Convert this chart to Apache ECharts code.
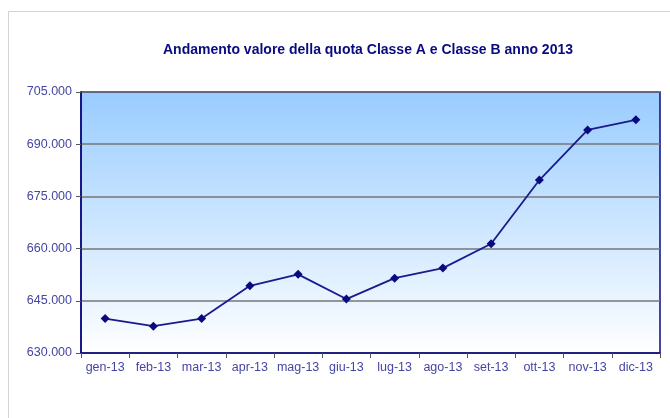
<!DOCTYPE html>
<html>
<head>
<meta charset="utf-8">
<style>
  html, body { margin: 0; padding: 0; background: #fff; }
  #chart { width: 670px; height: 418px; }
</style>
<script src="https://cdn.jsdelivr.net/npm/echarts@6/dist/echarts.min.js"></script>
</head>
<body>
<div id="chart"></div>
<script>
// mesi 2013
const months = ['gen-13', 'feb-13', 'mar-13', 'apr-13', 'mag-13', 'giu-13',
  'lug-13', 'ago-13', 'set-13', 'ott-13', 'nov-13', 'dic-13'];
// valore della quota
const quota = [639900, 637700, 639900, 649300, 652600, 645500,
  651500, 654400, 661400, 679700, 694100, 697000];
const yTicks = [630000, 645000, 660000, 675000, 690000, 705000];

const navy = '#0a0a80';
const labelColor = '#4545a3';

const fmt = v => String(v).replace(/\B(?=(\d{3})+(?!\d))/g, '.');

const chart = echarts.init(document.getElementById('chart'));

chart.setOption({
  animation: false,
  textStyle: { fontFamily: 'Liberation Sans, Arial, sans-serif' },
  graphic: [{
    type: 'rect',
    shape: { x: 8.5, y: 11.5, width: 700, height: 450 },
    style: { fill: 'none', stroke: '#d4d4d4', lineWidth: 1 },
    z: -10
  }],
  title: {
    text: 'Andamento valore della quota Classe A e Classe B anno 2013',
    left: 363,
    top: 38,
    textAlign: 'center',
    textStyle: { color: navy, fontSize: 14, fontWeight: 'bold' }
  },
  grid: {
    left: 81, top: 92, right: 10, bottom: 65,
    show: true,
    borderColor: navy,
    borderWidth: 1.5,
    backgroundColor: new echarts.graphic.LinearGradient(0, 0, 0, 1, [
      { offset: 0, color: '#99ccff' },
      { offset: 1, color: '#ffffff' }
    ])
  },
  xAxis: {
    type: 'category',
    data: months,
    boundaryGap: true,
    axisLine: { lineStyle: { color: navy, width: 1.5 } },
    axisTick: { show: true, alignWithLabel: false, length: 5, lineStyle: { color: '#555' } },
    axisLabel: { color: labelColor, fontSize: 12.5, margin: 8, interval: 0 },
    splitLine: { show: false }
  },
  yAxis: {
    type: 'value',
    min: yTicks[0],
    max: yTicks[yTicks.length - 1],
    interval: yTicks[1] - yTicks[0],
    axisLine: { show: true, lineStyle: { color: navy, width: 1.5 } },
    axisTick: { show: true, length: 5, lineStyle: { color: '#555' } },
    axisLabel: { color: labelColor, fontSize: 12.5, margin: 9, formatter: fmt },
    splitLine: { show: true, lineStyle: { color: '#767676', width: 1.5 } }
  },
  series: [{
    type: 'line',
    data: quota,
    symbol: 'diamond',
    symbolSize: 9,
    itemStyle: { color: navy },
    lineStyle: { color: '#1a1a8c', width: 1.8 }
  }]
});
</script>
</body>
</html>
